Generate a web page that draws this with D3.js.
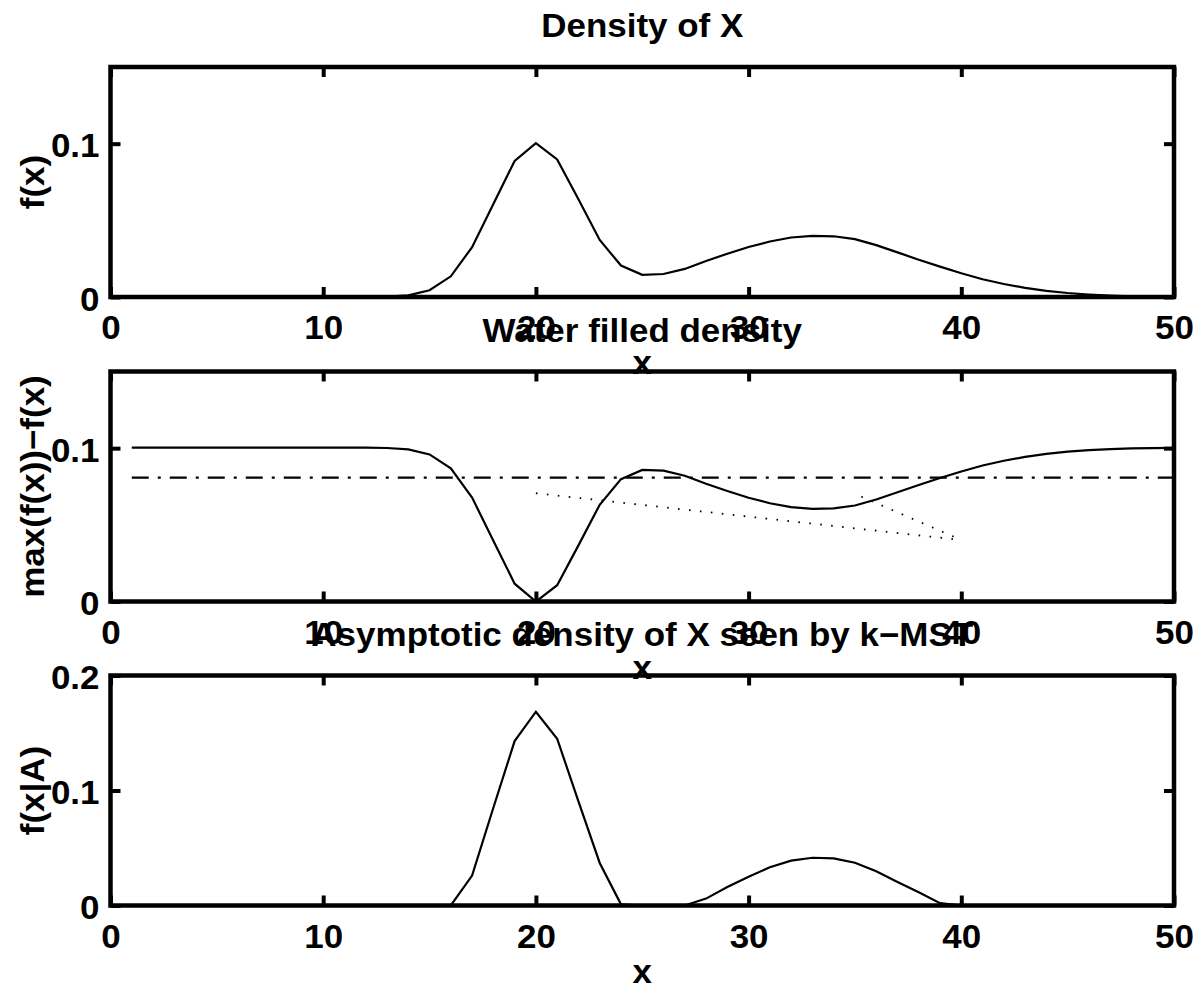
<!DOCTYPE html>
<html>
<head>
<meta charset="utf-8">
<script src="https://cdn.jsdelivr.net/npm/d3@7/dist/d3.min.js"></script>
<style>
  body { margin: 0; background: #fff; }
  svg text { font-family: "Liberation Sans", Arial, Helvetica, sans-serif; font-weight: bold; font-size: 33px; fill: #000; }
</style>
</head>
<body>
<svg id="chart" width="1199" height="989"></svg>
<script>
// sample grid
const xGrid = [1, 2, 3, 4, 5, 6, 7, 8, 9, 10, 11, 12, 13, 14, 15, 16, 17, 18, 19, 20,
               21, 22, 23, 24, 25, 26, 27, 28, 29, 30, 31, 32, 33, 34, 35, 36, 37, 38, 39, 40,
               41, 42, 43, 44, 45, 46, 47, 48, 49, 50];

// f(x)
const density = [0, 0, 0, 0, 0, 0, 0, 0, 0, 0, 0, 0, 0.0002, 0.0011, 0.0044, 0.0135, 0.0325, 0.0607, 0.0887, 0.1003,
                 0.0897, 0.0637, 0.0372, 0.0205, 0.0145, 0.0150, 0.0183, 0.0235, 0.0282, 0.0326, 0.0362, 0.0388, 0.0399, 0.0396, 0.0377, 0.0338, 0.0291, 0.0243, 0.0198, 0.0155,
                 0.0116, 0.0085, 0.0060, 0.0040, 0.0026, 0.0016, 0.0009, 0.0005, 0.0003, 0.0001];

// max(f(x)) - f(x), middle panel
const waterFilled = [0.1003, 0.1003, 0.1003, 0.1003, 0.1003, 0.1003, 0.1003, 0.1003, 0.1003, 0.1003, 0.1003, 0.1003, 0.1001, 0.0992, 0.0959, 0.0868, 0.0678, 0.0396, 0.0116, 0.0000,
                     0.0106, 0.0366, 0.0631, 0.0798, 0.0858, 0.0853, 0.0820, 0.0768, 0.0721, 0.0677, 0.0641, 0.0615, 0.0604, 0.0607, 0.0626, 0.0665, 0.0712, 0.0760, 0.0805, 0.0848,
                     0.0887, 0.0918, 0.0943, 0.0963, 0.0977, 0.0987, 0.0994, 0.0998, 0.1000, 0.1002];

// water level (dash-dot) and the two dotted guide lines
const levelX = [1, 50];
const levelY = [0.0808, 0.0808];
const dottedAX = [20, 40];
const dottedAY = [0.0706, 0.0401];
const dottedBX = [35.3, 40];
const dottedBY = [0.0684, 0.0401];

// f(x|A), bottom panel
const conditional = [0, 0, 0, 0, 0, 0, 0, 0, 0, 0, 0, 0, 0, 0, 0, 0, 0.0260, 0.0850, 0.1430, 0.1685,
                     0.1450, 0.0905, 0.0370, 0.0010, 0, 0, 0, 0.0060, 0.0160, 0.0250, 0.0333, 0.0390, 0.0415, 0.0410, 0.0372, 0.0298, 0.0205, 0.0115, 0.0020, 0,
                     0, 0, 0, 0, 0, 0, 0, 0, 0, 0];

const xTicks = [0, 10, 20, 30, 40, 50];
const yTicksSmall = [0, 0.1];
const yTicksLarge = [0, 0.1, 0.2];

const titles = ['Density of X', 'Water filled density', 'Asymptotic density of X seen by k\u2212MST'];
const yLabels = ['f(x)', 'max(f(x))\u2212f(x)', 'f(x|A)'];

const zip = (a, b) => a.map((v, i) => [v, b[i]]);

const panels = [
  { title: titles[0], ylabel: yLabels[0], top: 67, yMax: 0.15, yTicks: yTicksSmall,
    series: [{ pts: zip(xGrid, density), dash: null, w: 2.2 }] },
  { title: titles[1], ylabel: yLabels[1], top: 371.5, yMax: 0.15, yTicks: yTicksSmall,
    series: [
      { pts: zip(xGrid, waterFilled), dash: null, w: 2.2 },
      { pts: zip(levelX, levelY), dash: '17 9 3 9', w: 2.2 },
      { pts: zip(dottedAX, dottedAY), dash: '1.6 9.4', w: 1.8 },
      { pts: zip(dottedBX, dottedBY), dash: '1.6 9.4', w: 1.8 }
    ] },
  { title: titles[2], ylabel: yLabels[2], top: 675.5, yMax: 0.2, yTicks: yTicksLarge,
    series: [{ pts: zip(xGrid, conditional), dash: null, w: 2.2 }] }
];

const left = 110.5, right = 1174, panelH = 230;
const stretch = 1.06; // the reference glyphs are a bit wider than Arial
const svg = d3.select('#chart');
svg.append('rect').attr('width', 1199).attr('height', 989).attr('fill', '#fff');

const x = d3.scaleLinear().domain([0, 50]).range([left, right]);
const yFmt = (d) => d === 0 ? '0' : String(d);

function styleAxis(sel) {
  sel.attr('font-family', null).attr('font-size', null);
  sel.select('.domain').remove();
  sel.selectAll('.tick line').attr('stroke', '#000').attr('stroke-width', 4);
  sel.selectAll('text').attr('fill', '#000').attr('transform', `scale(${stretch},1)`);
}

function label(g, tx, ty, rot, str) {
  g.append('text')
    .attr('transform', `translate(${tx},${ty}) rotate(${rot}) scale(${stretch},1)`)
    .attr('text-anchor', 'middle')
    .text(str);
}

panels.forEach((p) => {
  const g = svg.append('g').attr('transform', `translate(0,${p.top})`);
  const y = d3.scaleLinear().domain([0, p.yMax]).range([panelH, 0]);

  // curves
  const line = d3.line().x((d) => x(d[0])).y((d) => y(d[1]));
  p.series.forEach((s) => {
    g.append('path')
      .datum(s.pts)
      .attr('d', line)
      .attr('fill', 'none')
      .attr('stroke', '#000')
      .attr('stroke-width', s.w)
      .attr('stroke-linejoin', 'miter')
      .attr('stroke-dasharray', s.dash);
  });

  // ticks on all four sides, pointing inwards
  g.append('g')
    .attr('transform', `translate(0,${panelH})`)
    .call(d3.axisBottom(x).tickValues(xTicks).tickSize(-10).tickPadding(19).tickFormat(d3.format('d')))
    .call(styleAxis);
  g.append('g')
    .call(d3.axisTop(x).tickValues(xTicks).tickSize(-10).tickFormat(''))
    .call(styleAxis);
  g.append('g')
    .attr('transform', `translate(${left},0)`)
    .call(d3.axisLeft(y).tickValues(p.yTicks).tickSize(-10).tickPadding(11).tickFormat(yFmt))
    .call(styleAxis)
    .selectAll('text').attr('x', -11 / stretch).attr('dy', '0.4em');
  g.append('g')
    .attr('transform', `translate(${right},0)`)
    .call(d3.axisRight(y).tickValues(p.yTicks).tickSize(-10).tickFormat(''))
    .call(styleAxis);

  // box
  g.append('rect')
    .attr('x', left).attr('y', 0)
    .attr('width', right - left).attr('height', panelH)
    .attr('fill', 'none').attr('stroke', '#000').attr('stroke-width', 4.5);

  // labels
  label(g, (left + right) / 2, -30, 0, p.title);
  label(g, (left + right) / 2, panelH + 77, 0, 'x');
  label(g, 44, panelH / 2, -90, p.ylabel);
});
</script>
</body>
</html>
